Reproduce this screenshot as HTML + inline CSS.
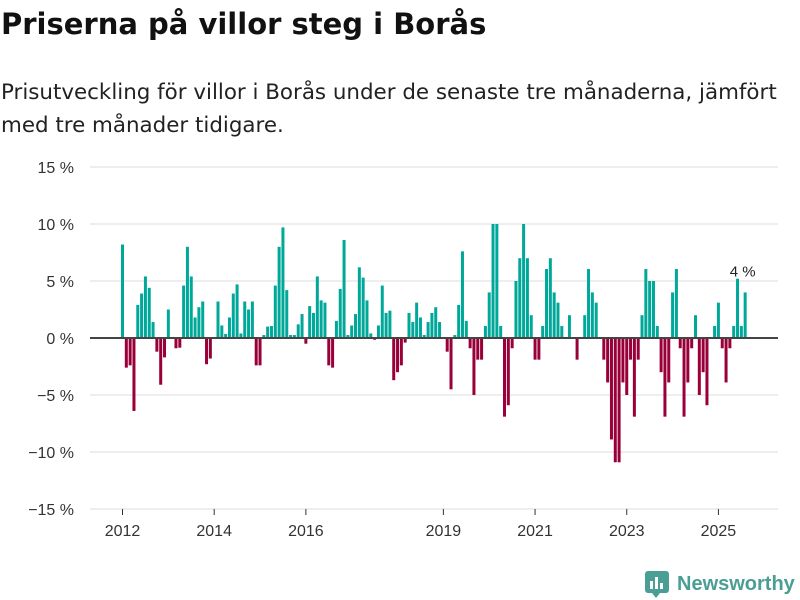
<!DOCTYPE html>
<html><head><meta charset="utf-8"><style>
body{margin:0;width:800px;height:600px;background:#fff;overflow:hidden;font-family:"Liberation Sans",sans-serif;}
h1{position:absolute;left:1px;top:7px;margin:0;font-family:"DejaVu Sans",sans-serif;font-size:29px;font-weight:bold;color:#111;white-space:nowrap;}
.sub{position:absolute;left:1px;top:76px;margin:0;font-family:"DejaVu Sans",sans-serif;font-size:21.4px;line-height:33px;color:#222;white-space:nowrap;}
svg{position:absolute;left:0;top:0;}
</style></head><body>
<h1>Priserna på villor steg i Borås</h1>
<p class="sub">Prisutveckling för villor i Borås under de senaste tre månaderna, jämfört<br>med tre månader tidigare.</p>
<svg width="800" height="600">
<g id="grid"></g><g id="bars"></g><g id="axis"></g>
<g>
<rect x="645" y="571" width="24" height="22" rx="3" fill="#4a9e94"/>
<rect x="650" y="581" width="3" height="8" fill="#fff"/><rect x="655" y="577" width="3" height="12" fill="#fff"/><rect x="660" y="583" width="3" height="6" fill="#fff"/>
<polygon points="652,593 660,593 656,598" fill="#4a9e94"/>
<text x="677" y="590" font-size="20" font-weight="bold" fill="#4a9e94">Newsworthy</text>
</g>
</svg>
<script>
const values=[8.2,-2.6,-2.4,-6.4,2.9,3.9,5.4,4.4,1.4,-1.2,-4.1,-1.7,2.5,0,-0.9,-0.85,4.6,8.0,5.4,1.8,2.7,3.2,-2.3,-1.8,0,3.2,1.1,0.35,1.8,3.9,4.7,0.4,3.2,2.5,3.2,-2.4,-2.4,0.26,1.0,1.05,4.6,
8.0,9.7,4.2,0.26,0.26,1.2,2.1,-0.5,2.8,2.2,5.4,3.3,3.1,-2.4,-2.6,1.5,4.3,8.6,0.26,1.1,2.1,6.2,5.3,3.3,0.4,-0.15,1.1,4.6,2.2,2.4,-3.7,-3.0,-2.4,-0.4,2.2,1.4,3.1,1.8,0.26,1.4,2.2,
2.7,1.4,0,-1.2,-4.5,0.26,2.9,7.6,1.5,-0.9,-5.0,-1.9,-1.9,1.05,4.0,10,10,1.05,-6.9,-5.9,-0.9,5.0,7.0,10,7.0,2.0,-1.9,-1.9,1.05,6.05,7.0,4.0,3.1,1.05,0,2.0,0,-1.9,0,2.0,6.05,4.0,3.1,
0,-1.9,-3.9,-8.9,-10.9,-10.9,-3.9,-5.0,-1.9,-6.9,-1.9,2.0,6.05,5.0,5.0,1.05,-3.0,-6.9,-3.9,4.0,6.05,-0.9,-6.9,-3.9,-0.9,2.0,-5.0,-3.0,-5.9,0,1.05,3.1,-0.9,-3.9,-0.9,1.05,5.2,1.05,4.0];
const startYear=2012;
const yTicks=[15,10,5,0,-5,-10,-15];
const yTickLabels=["15 %","10 %","5 %","0 %","−5 %","−10 %","−15 %"];
const xTickYears=[2012,2014,2016,2019,2021,2023,2025];
const lastLabel="4 %";
const NS="http://www.w3.org/2000/svg";
const y=v=>338-v*11.4;
const x=m=>121+m*3.82;
function mk(t,a,p){const e=document.createElementNS(NS,t);for(const k in a)e.setAttribute(k,a[k]);p.appendChild(e);return e;}
const grid=document.getElementById('grid'),bars=document.getElementById('bars'),axis=document.getElementById('axis');
yTicks.forEach((v,i)=>{
 if(v!==0){const l=mk('line',{x1:90,x2:778,y1:y(v),y2:y(v),stroke:'#ddd','stroke-width':1},grid);
 
 }
 const t=mk('text',{x:74,y:y(v)+6,'text-anchor':'end','font-size':16,fill:'#333'},axis);t.textContent=yTickLabels[i];
 
 
});
values.forEach((v,i)=>{
 const top=v>=0?y(v):y(0),h=Math.abs(y(v)-y(0));
 const r=mk('rect',{x:x(i),y:top,width:3,height:h,fill:v>=0?'#00a89a':'#990039'},bars);
 
 
});
const zl=mk('line',{x1:90,x2:778,y1:y(0),y2:y(0),stroke:'#444','stroke-width':2},axis);


xTickYears.forEach(yr=>{
 const px=x((yr-startYear)*12)+1.5;
 mk('line',{x1:px,x2:px,y1:509,y2:515,stroke:'#333'},axis);
 const t=mk('text',{x:px,y:536,'text-anchor':'middle','font-size':16,fill:'#333'},axis);t.textContent=yr;
 
 
});
const li=values.length-1;
const lt=mk('text',{x:x(li)-1,y:y(values[li])-16,'text-anchor':'middle','font-size':15,fill:'#222'},axis);
lt.textContent=lastLabel;


</script>
</body></html>
